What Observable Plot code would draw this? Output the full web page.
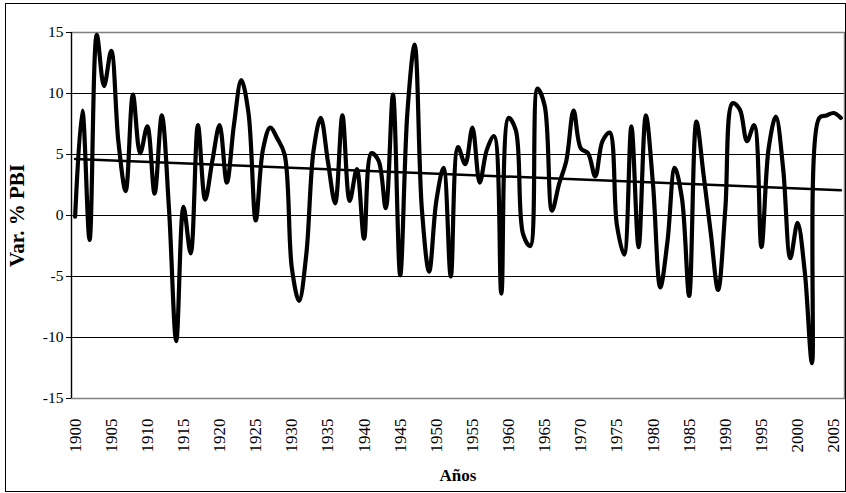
<!DOCTYPE html>
<html><head><meta charset="utf-8">
<script src="https://cdn.jsdelivr.net/npm/d3@7"></script>
<script src="https://cdn.jsdelivr.net/npm/@observablehq/plot@0.6"></script>
<style>
body{margin:0;background:#fff;}
#wrap{position:relative;width:846px;height:493px;overflow:hidden;}
#border{position:absolute;left:5px;top:3px;width:839px;height:487px;border:1px solid #000;pointer-events:none;}
</style></head><body>
<div id="wrap"><div id="chart"></div><div id="border"></div></div>
<script>
const years = d3.range(1900, 2007);
const growth = [
  -0.1, 8.6, -2.0, 14.8, 10.6, 13.5, 6.0, 2.0, 9.9, 5.1,
  7.3, 1.8, 8.2, 0.5, -10.3, 0.7, -3.1, 7.4, 1.3, 4.5,
  7.4, 2.7, 7.5, 11.1, 8.4, -0.4, 5.4, 7.2, 6.3, 5.0,
  -4.3, -7.0, -3.2, 5.3, 8.0, 4.4, 1.0, 8.2, 1.2, 3.8,
  -1.9, 5.1, 4.5, 0.6, 9.9, -4.9, 8.5, 14.0, 0.5, -4.6,
  1.2, 3.9, -5.0, 5.6, 4.2, 7.2, 2.7, 5.4, 6.5, -6.4,
  8.0, 7.0, -1.5, -2.5, 10.4, 9.0, 0.4, 2.6, 4.5, 8.6,
  5.5, 5.1, 3.2, 6.1, 6.8, -0.8, -3.2, 7.3, -2.6, 8.2,
  2.5, -5.9, -2.1, 3.9, 1.4, -6.6, 7.7, 3.3, -1.5, -6.1,
  0.5, 9.2, 8.7, 6.1, 7.4, -2.6, 5.5, 8.1, 3.9, -3.5,
  -0.6, -4.6, -12.1, 8.0, 8.2, 8.4, 8.0
];
const yTicks = [-15, -10, -5, 0, 5, 10, 15];
const gridValues = [-10, -5, 0, 5, 10];
const xTicks = d3.range(1900, 2006, 5);
const data = years.map((year, i) => ({year, value: growth[i]}));
const serif = "'Liberation Serif', 'Times New Roman', serif";

const chart = Plot.plot({
  width: 846, height: 493,
  marginLeft: 71, marginRight: 2, marginTop: 32, marginBottom: 95,
  style: {fontFamily: serif, background: "white", color: "#000"},
  x: {domain: [1899.5, 2006.5]},
  y: {domain: [-15, 15]},
  marks: [
    Plot.ruleY(gridValues, {stroke: "#000", strokeWidth: 1}),
    Plot.frame({stroke: "#808080", strokeWidth: 1.5}),
    Plot.ruleX([1899.5], {stroke: "#000", strokeWidth: 1.2}),
    Plot.axisY({ticks: yTicks, tickFormat: d => String(d), tickSize: 5, tickPadding: 3, fontSize: 15.5, label: null, stroke: "#000"}),
    Plot.axisX({ticks: xTicks, tickFormat: d => String(d), tickRotate: -90, tickSize: 0, tickPadding: 20, fontSize: 17, label: null}),
    Plot.line(data, {x: "year", y: "value", curve: "catmull-rom", stroke: "#000", strokeWidth: 4.2}),
    Plot.linearRegressionY(data, {x: "year", y: "value", stroke: "#000", strokeWidth: 2.5, ci: 0}),
    Plot.text(["Var. % PBI"], {text: d => d, frameAnchor: "left", dx: -54, rotate: -90, textAnchor: "middle", lineAnchor: "middle", fontWeight: "bold", fontSize: 21, fill: "#000"}),
    Plot.text(["Años"], {text: d => d, frameAnchor: "bottom", dy: 77, lineAnchor: "middle", fontWeight: "bold", fontSize: 17, fill: "#000"})
  ]
});
document.getElementById("chart").appendChild(chart);
</script>
</body></html>
